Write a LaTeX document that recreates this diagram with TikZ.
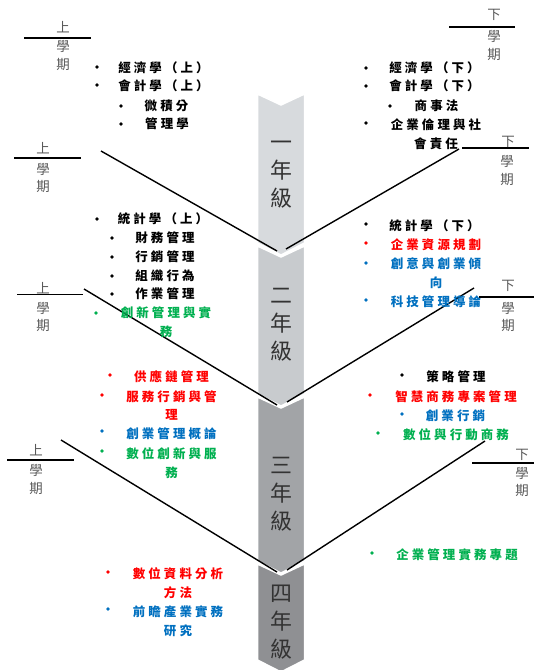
\documentclass[tikz,border=0pt]{standalone}
\usepackage{fontspec}
\newfontfamily\cjk{Noto Sans CJK TC}
\newfontfamily\cjkitem[LetterSpace=25]{Noto Sans CJK TC}
\definecolor{myred}{HTML}{FF0000}
\definecolor{myblue}{HTML}{0070C0}
\definecolor{mygreen}{HTML}{00B050}
\definecolor{segA}{HTML}{D7DADD}
\definecolor{segB}{HTML}{C8CBCE}
\definecolor{segC}{HTML}{A2A4A7}
\definecolor{segD}{HTML}{8F9093}
\definecolor{labgrey}{HTML}{595959}
\definecolor{yeargrey}{HTML}{333333}
\tikzset{
  item/.style={font=\cjkitem\bfseries\fontsize{12.5}{19}\selectfont, inner sep=0pt, align=center},
  bul/.style={circle, fill, inner sep=0pt, minimum size=3.6bp},
  sem/.style={font=\cjk\fontsize{13.5}{18}\selectfont, text=labgrey, inner sep=0pt, align=center},
  semline/.style={line width=1.4bp, black},
  vline/.style={line width=1.4bp, black},
  seg/.style={draw=white, line width=1.5bp},
  yr/.style={font=\cjk\fontsize{22}{28}\selectfont, text=yeargrey, align=center, inner sep=0pt},
}
\begin{document}
\begin{tikzpicture}[x=1bp,y=-1bp]
\useasboundingbox[fill=white] (0,0) rectangle (534,670);
% chevron column
\path[seg, fill=segD] (257.5,564) -- (281,575) -- (304.5,564) -- (304.5,660) -- (281,672) -- (257.5,660) -- cycle;
\path[seg, fill=segC] (257.5,397) -- (281,408) -- (304.5,397) -- (304.5,561) -- (281,573) -- (257.5,561) -- cycle;
\path[seg, fill=segB] (257.5,246) -- (281,257) -- (304.5,246) -- (304.5,394) -- (281,406) -- (257.5,394) -- cycle;
\path[seg, fill=segA] (257.5,94) -- (281,105) -- (304.5,94) -- (304.5,243) -- (281,255) -- (257.5,243) -- cycle;
\node[yr] (y1) at (281,175) {一\\年\\級};
\node[yr] (y2) at (281,325) {二\\年\\級};
\node[yr] (y3) at (281,494.5) {三\\年\\級};
\node[yr] (y4) at (281,622) {四\\年\\級};
% V lines
\coordinate (v1a) at (101,151); \coordinate (v1b) at (277,251);
\coordinate (v1c) at (286,249); \coordinate (v1d) at (459,149);
\coordinate (v2a) at (84,289);  \coordinate (v2b) at (277,405);
\coordinate (v2c) at (287,402); \coordinate (v2d) at (474,288);
\coordinate (v3a) at (61,440);  \coordinate (v3b) at (277,572);
\coordinate (v3c) at (287,570); \coordinate (v3d) at (485,441);
\draw[vline] (v1a) -- (v1b); \draw[vline] (v1c) -- (v1d);
\draw[vline] (v2a) -- (v2b); \draw[vline] (v2c) -- (v2d);
\draw[vline] (v3a) -- (v3b); \draw[vline] (v3c) -- (v3d);
% semester labels left
\coordinate (l1a) at (24,38);  \coordinate (l1b) at (91,38);
\coordinate (l2a) at (14,158); \coordinate (l2b) at (81,158);
\coordinate (l3a) at (17,294.5); \coordinate (l3b) at (83,294.5);
\coordinate (l4a) at (7,460);  \coordinate (l4b) at (74,460);
\draw[semline] (l1a) -- (l1b); \draw[semline] (l2a) -- (l2b);
\draw[semline] (l3a) -- (l3b); \draw[semline] (l4a) -- (l4b);
\node[sem] (s1t) at (63,27) {上};  \node[sem] (s1b) at (63,55.5) {學\\期};
\node[sem] (s2t) at (43,148) {上}; \node[sem] (s2b) at (43,178) {學\\期};
\node[sem] (s3t) at (43,288) {上}; \node[sem] (s3b) at (43,317) {學\\期};
\node[sem] (s4t) at (36,450) {上}; \node[sem] (s4b) at (36,479.5) {學\\期};
% semester labels right
\coordinate (r1a) at (449,27);  \coordinate (r1b) at (515,27);
\coordinate (r2a) at (462,148); \coordinate (r2b) at (529,148);
\coordinate (r3a) at (479,297); \coordinate (r3b) at (534,297);
\coordinate (r4a) at (472,463); \coordinate (r4b) at (534,463);
\draw[semline] (r1a) -- (r1b); \draw[semline] (r2a) -- (r2b);
\draw[semline] (r3a) -- (r3b); \draw[semline] (r4a) -- (r4b);
\node[sem] (t1t) at (494,15) {下};  \node[sem] (t1b) at (494,45.5) {學\\期};
\node[sem] (t2t) at (508,142) {下}; \node[sem] (t2b) at (507,170.5) {學\\期};
\node[sem] (t3t) at (508,286) {下}; \node[sem] (t3b) at (508,317) {學\\期};
\node[sem] (t4t) at (522,455) {下}; \node[sem] (t4b) at (522,482) {學\\期};
% block A
\node[bul] (ba1) at (97,67) {};  \node[item] (a1) at (163.5,68) {經濟學（上）};
\node[bul] (ba2) at (97,85) {};  \node[item] (a2) at (163.5,86) {會計學（上）};
\node[bul] (ba3) at (121,106) {}; \node[item] (a3) at (166.5,106) {微積分};
\node[bul] (ba4) at (121,124) {}; \node[item] (a4) at (167,124) {管理學};
% block B
\node[bul] (bb1) at (366,68) {};  \node[item] (b1) at (434.5,68) {經濟學（下）};
\node[bul] (bb2) at (366,86) {};  \node[item] (b2) at (434.5,86) {會計學（下）};
\node[bul] (bb3) at (390,106) {}; \node[item] (b3) at (436.5,106) {商事法};
\node[bul] (bb4) at (366,123) {}; \node[item] (b4) at (436,134) {企業倫理與社\\會責任};
% block C
\node[bul] (bc1) at (97,219) {};  \node[item] (c1) at (163,219) {統計學（上）};
\node[bul] (bc2) at (112,238) {}; \node[item] (c2) at (165,238) {財務管理};
\node[bul] (bc3) at (112,257) {}; \node[item] (c3) at (165,257) {行銷管理};
\node[bul] (bc4) at (112,276) {}; \node[item] (c4) at (165,276) {組織行為};
\node[bul] (bc5) at (112,294) {}; \node[item] (c5) at (165,294) {作業管理};
\node[bul, fill=mygreen] (bc6) at (96,313) {}; \node[item, text=mygreen] (c6) at (166,322.5) {創新管理與實\\務};
% block D
\node[bul] (bd1) at (366,224) {}; \node[item] (d1) at (434.5,226) {統計學（下）};
\node[bul, fill=myred] (bd2) at (366,243) {}; \node[item, text=myred] (d2) at (436,245) {企業資源規劃};
\node[bul, fill=myblue] (bd3) at (366,263) {}; \node[item, text=myblue] (d3) at (436,273.5) {創意與創業傾\\向};
\node[bul, fill=myblue] (bd4) at (366,300) {}; \node[item, text=myblue] (d4) at (436,302) {科技管理導論};
% block E
\node[bul, fill=myred] (be1) at (110,375) {}; \node[item, text=myred] (e1) at (171.5,377) {供應鏈管理};
\node[bul, fill=myred] (be2) at (102,395) {}; \node[item, text=myred] (e2) at (171.5,405.5) {服務行銷與管\\理};
\node[bul, fill=myblue] (be3) at (102,431) {}; \node[item, text=myblue] (e3) at (171.5,434) {創業管理概論};
\node[bul, fill=mygreen] (be4) at (102,451) {}; \node[item, text=mygreen] (e4) at (171.5,463) {數位創新與服\\務};
% block F
\node[bul] (bf1) at (402,375) {}; \node[item] (f1) at (456,377) {策略管理};
\node[bul, fill=myred] (bf2) at (370,395) {}; \node[item, text=myred] (f2) at (456,397) {智慧商務專案管理};
\node[bul, fill=myblue] (bf3) at (402,414) {}; \node[item, text=myblue] (f3) at (455.5,416) {創業行銷};
\node[bul, fill=mygreen] (bf4) at (378,433) {}; \node[item, text=mygreen] (f4) at (456,435) {數位與行動商務};
% block G
\node[bul, fill=myred] (bg1) at (108,572) {}; \node[item, text=myred] (g1) at (178,583) {數位資料分析\\方法};
\node[bul, fill=myblue] (bg2) at (108,609) {}; \node[item, text=myblue] (g2) at (178,621) {前瞻產業實務\\研究};
% block H
\node[bul, fill=mygreen] (bh1) at (372,553) {}; \node[item, text=mygreen] (h1) at (457,555) {企業管理實務專題};
\end{tikzpicture}
\end{document}
